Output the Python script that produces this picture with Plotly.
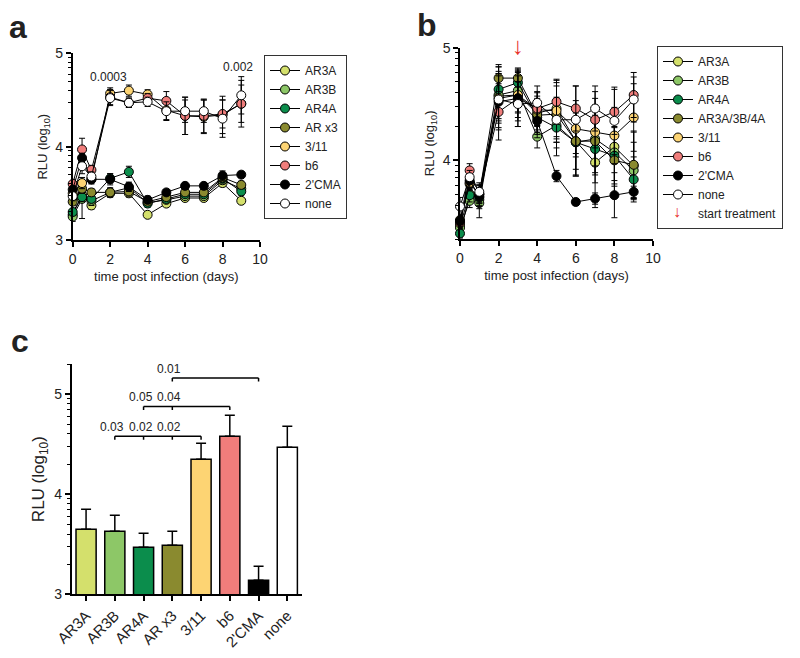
import math
import plotly.graph_objects as go

DAYS = [0, 0.5, 1, 2, 3, 4, 5, 6, 7, 8, 9]

NAMES_A = ["AR3A", "AR3B", "AR4A", "AR x3", "3/11", "b6", "2'CMA", "none"]
NAMES_B = ["AR3A", "AR3B", "AR4A", "AR3A/3B/4A", "3/11", "b6", "2'CMA", "none"]
COLORS = ["#d4e06c", "#8dc767", "#0b8d4c", "#8a8a2f", "#fdd473", "#f07d7b", "#000000", "#ffffff"]

# panel a: RLU (log10) per day
A_VALS = [
    [3.27, 3.48, 3.37, 3.50, 3.50, 3.27, 3.39, 3.45, 3.45, 3.61, 3.42],
    [3.25, 3.44, 3.42, 3.51, 3.56, 3.40, 3.43, 3.47, 3.47, 3.64, 3.55],
    [3.30, 3.46, 3.44, 3.66, 3.73, 3.39, 3.44, 3.49, 3.49, 3.66, 3.52],
    [3.41, 3.55, 3.51, 3.51, 3.52, 3.41, 3.46, 3.51, 3.51, 3.67, 3.59],
    [3.50, 3.61, 3.65, 4.57, 4.60, 4.56, 4.39, 4.33, 4.32, 4.34, 4.46],
    [3.60, 3.97, 3.75, 4.53, 4.47, 4.52, 4.49, 4.33, 4.33, 4.35, 4.46],
    [3.54, 3.88, 3.65, 3.65, 3.57, 3.43, 3.51, 3.58, 3.58, 3.69, 3.70],
    [3.47, 3.79, 3.68, 4.52, 4.47, 4.48, 4.38, 4.38, 4.38, 4.30, 4.55],
]
A_ERR = [
    [0.04, 0.05, 0.04, 0.04, 0.04, 0.03, 0.03, 0.03, 0.03, 0.04, 0.03],
    [0.05, 0.21, 0.05, 0.05, 0.05, 0.04, 0.03, 0.03, 0.03, 0.04, 0.04],
    [0.04, 0.05, 0.04, 0.05, 0.06, 0.04, 0.03, 0.03, 0.03, 0.05, 0.04],
    [0.04, 0.05, 0.04, 0.04, 0.05, 0.04, 0.03, 0.03, 0.03, 0.04, 0.04],
    [0.05, 0.06, 0.05, 0.06, 0.06, 0.05, 0.10, 0.20, 0.18, 0.20, 0.20],
    [0.05, 0.12, 0.05, 0.08, 0.05, 0.05, 0.10, 0.20, 0.18, 0.15, 0.25],
    [0.04, 0.05, 0.04, 0.06, 0.05, 0.04, 0.03, 0.03, 0.03, 0.05, 0.03],
    [0.05, 0.08, 0.05, 0.08, 0.05, 0.05, 0.10, 0.12, 0.12, 0.20, 0.20],
]

# panel b
B_VALS = [
    [3.42, 3.70, 3.65, 4.57, 4.58, 4.42, 4.46, 4.17, 3.98, 4.12, 3.95],
    [3.40, 3.64, 3.62, 4.58, 4.62, 4.21, 4.31, 4.16, 4.19, 4.07, 3.91],
    [3.35, 3.69, 3.67, 4.63, 4.69, 4.38, 4.29, 4.16, 4.10, 4.04, 3.83],
    [3.47, 3.79, 3.70, 4.73, 4.73, 4.40, 4.41, 4.17, 4.17, 4.00, 3.96],
    [3.44, 3.80, 3.70, 4.55, 4.58, 4.45, 4.44, 4.28, 4.25, 4.22, 4.38],
    [3.45, 3.91, 3.70, 4.43, 4.55, 4.46, 4.52, 4.46, 4.36, 4.43, 4.58],
    [3.46, 3.82, 3.68, 4.52, 4.55, 4.35, 3.86, 3.63, 3.66, 3.69, 3.72],
    [3.59, 3.85, 3.72, 4.54, 4.50, 4.51, 4.36, 4.36, 4.46, 4.35, 4.54],
]
B_ERR = [
    [0.05, 0.06, 0.08, 0.20, 0.15, 0.15, 0.25, 0.30, 0.40, 0.30, 0.30],
    [0.05, 0.06, 0.13, 0.25, 0.20, 0.10, 0.20, 0.30, 0.30, 0.30, 0.25],
    [0.04, 0.06, 0.08, 0.20, 0.10, 0.15, 0.25, 0.30, 0.30, 0.25, 0.20],
    [0.05, 0.06, 0.08, 0.12, 0.08, 0.15, 0.25, 0.25, 0.30, 0.30, 0.30],
    [0.05, 0.06, 0.08, 0.20, 0.20, 0.15, 0.25, 0.25, 0.30, 0.25, 0.30],
    [0.05, 0.06, 0.08, 0.25, 0.20, 0.15, 0.20, 0.20, 0.25, 0.20, 0.20],
    [0.05, 0.06, 0.08, 0.25, 0.25, 0.15, 0.05, 0.03, 0.05, 0.20, 0.05],
    [0.08, 0.06, 0.08, 0.25, 0.20, 0.15, 0.20, 0.30, 0.20, 0.30, 0.20],
]

# panel c
C_CATS = ["AR3A", "AR3B", "AR4A", "AR x3", "3/11", "b6", "2'CMA", "none"]
C_VALS = [3.65, 3.63, 3.47, 3.49, 4.35, 4.58, 3.14, 4.47]
C_ERR = [0.20, 0.16, 0.14, 0.14, 0.16, 0.21, 0.14, 0.21]
C_BRACKETS = [  # (left cat, right cat, inner cats, level, labels)
    (1, 4, [2, 3], 4.58, ["0.03", "0.02", "0.02"]),
    (2, 5, [3], 4.876, ["0.05", "0.04"]),
    (3, 6, [], 5.16, ["0.01"]),
]

FONT = "Liberation Sans, Arial, sans-serif"
INK = "#222222"
# page body has an 8px margin, so the figure is drawn 8px in from the window corner
OFF = 8
W, H = 800 - OFF, 658 - OFF


def px_x(p):
    return (p - OFF) / W


def px_y(p):
    return 1 - (p - OFF) / H


def minor_vals(lo, hi):
    out = []
    for n in range(2, 6):
        for k in range(2, 10):
            v = n + math.log10(k)
            if lo <= v <= hi:
                out.append(v)
    return out


fig = go.Figure()

for i, name in enumerate(NAMES_A):
    fig.add_trace(go.Scatter(
        x=DAYS, y=A_VALS[i], name=name, mode="lines+markers",
        line=dict(color="black", width=1),
        marker=dict(size=9, color=COLORS[i], line=dict(color="black", width=1)),
        error_y=dict(type="data", array=A_ERR[i], color="black", thickness=1, width=3),
        cliponaxis=False, xaxis="x", yaxis="y", legend="legend",
    ))

for i, name in enumerate(NAMES_B):
    fig.add_trace(go.Scatter(
        x=DAYS, y=B_VALS[i], name=name, mode="lines+markers",
        line=dict(color="black", width=1),
        marker=dict(size=9, color=COLORS[i], line=dict(color="black", width=1)),
        error_y=dict(type="data", array=B_ERR[i], color="black", thickness=1, width=3),
        cliponaxis=False, xaxis="x2", yaxis="y2", legend="legend2",
    ))
# legend row for the treatment arrow (symbol drawn as an annotation)
fig.add_trace(go.Scatter(
    x=[None], y=[None], name="start treatment", mode="lines",
    line=dict(color="rgba(0,0,0,0)", width=1),
    xaxis="x2", yaxis="y2", legend="legend2",
))

fig.add_trace(go.Bar(
    x=C_CATS, y=C_VALS, width=0.7,
    marker=dict(color=COLORS, line=dict(color="black", width=1.5)),
    error_y=dict(type="data", array=C_ERR, arrayminus=[0] * len(C_ERR), symmetric=False,
                 color="black", thickness=1.5, width=5),
    showlegend=False, xaxis="x3", yaxis="y3",
))

shapes = []
annotations = []
for left, right, inner, level, labels in C_BRACKETS:
    shapes.append(dict(type="line", xref="x3", yref="y3", x0=left, x1=right, y0=level, y1=level,
                       line=dict(color="black", width=1.5)))
    for c in [left] + inner + [right]:
        shapes.append(dict(type="line", xref="x3", yref="y3", x0=c, x1=c, y0=level, y1=level - 0.035,
                           line=dict(color="black", width=1.5)))
    for c, lab in zip([left] + inner, labels):
        annotations.append(dict(text=lab, x=c - 0.1, y=level + 0.005, xref="x3", yref="y3",
                                showarrow=False, yanchor="bottom", font=dict(size=12, color=INK)))


def paper_text(text, x, y, size, color=INK):
    return dict(text=text, x=px_x(x), y=px_y(y), xref="paper", yref="paper", showarrow=False,
                xanchor="center", yanchor="middle", font=dict(size=size, color=color))


annotations += [
    dict(text="0.0003", x=1.9, y=4.65, xref="x", yref="y", showarrow=False, yanchor="bottom",
         font=dict(size=12, color=INK)),
    dict(text="0.002", x=8.85, y=4.76, xref="x", yref="y", showarrow=False, yanchor="bottom",
         font=dict(size=12, color=INK)),
    dict(text="↓", x=3, y=4.88, xref="x2", yref="y2", showarrow=False, yanchor="bottom",
         font=dict(size=24, color="#e8322b")),
    paper_text("↓", 677, 211, 16, "#e8322b"),
    paper_text("<b>a</b>", 18, 27, 32),
    paper_text("<b>b</b>", 427, 25, 32),
    paper_text("<b>c</b>", 20, 341, 32),
]

axis_common = dict(showline=True, linecolor="black", linewidth=1.5, showgrid=False, zeroline=False,
                   automargin=False, ticks="outside", ticklen=5, tickwidth=1.5, tickcolor="black",
                   tickfont=dict(size=14, color=INK))


def xtitle(text):
    return dict(text=text, standoff=6, font=dict(size=13, color=INK))


def ytitle(size=13):
    return dict(text="RLU (log<sub>10</sub>)", standoff=5, font=dict(size=size, color=INK))


def minor(lo, hi):
    return dict(tickmode="array", tickvals=minor_vals(lo, hi), ticks="outside", ticklen=3,
                tickwidth=1, tickcolor="black")


fig.update_layout(
    width=W, height=H, margin=dict(l=0, r=0, t=0, b=0), autosize=False,
    paper_bgcolor="white", plot_bgcolor="white",
    font=dict(family=FONT, color=INK),
    shapes=shapes, annotations=annotations,
    xaxis=dict(axis_common, domain=[px_x(72.7), px_x(260)], range=[0, 10], dtick=2,
               title=xtitle("time post infection (days)"), anchor="y"),
    yaxis=dict(axis_common, domain=[px_y(240), px_y(53.3)], range=[3, 5], tickvals=[3, 4, 5],
               minor=minor(3, 5), title=ytitle(), anchor="x"),
    xaxis2=dict(axis_common, domain=[px_x(460), px_x(653)], range=[0, 10], dtick=2,
                title=xtitle("time post infection (days)"), anchor="y2"),
    yaxis2=dict(axis_common, domain=[px_y(239), px_y(47.7)], range=[math.log10(2000), 5],
                tickvals=[4, 5], minor=minor(3.3, 5), title=ytitle(), anchor="x2"),
    xaxis3=dict(axis_common, domain=[px_x(71.7), px_x(301.7)], range=[-0.5, 7.5],
                tickangle=-45, tickfont=dict(size=15, color=INK), anchor="y3"),
    yaxis3=dict(axis_common, domain=[px_y(594.3), px_y(364)], range=[3, math.log10(200000)],
                tickvals=[3, 4, 5], minor=minor(3, 5.31), title=ytitle(17), anchor="x3"),
    legend=dict(x=px_x(264), y=px_y(55), xanchor="left", yanchor="top", bgcolor="white",
                bordercolor="#333333", borderwidth=1, font=dict(size=12, color=INK),
                tracegroupgap=0),
    legend2=dict(x=px_x(657), y=px_y(46), xanchor="left", yanchor="top", bgcolor="white",
                 bordercolor="#333333", borderwidth=1, font=dict(size=12, color=INK),
                 tracegroupgap=0),
)

fig.write_html("out.html")
